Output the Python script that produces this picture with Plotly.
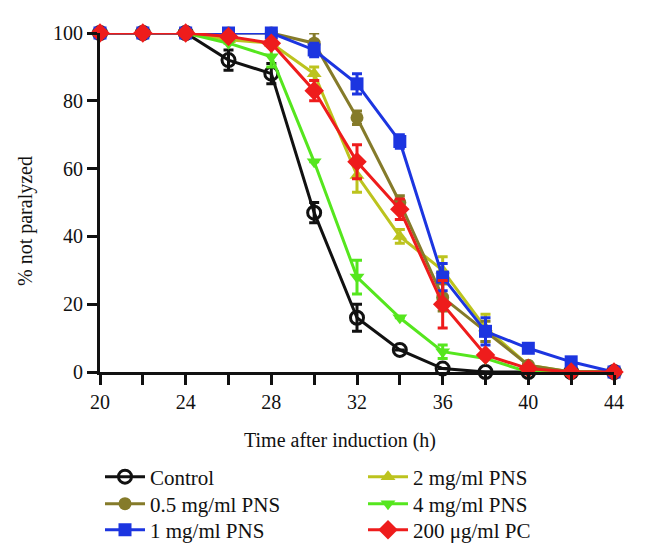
import plotly.graph_objects as go

hours = [20, 22, 24, 26, 28, 30, 32, 34, 36, 38, 40, 42, 44]

control = [100, 100, 100, 92, 88, 47, 16, 6.5, 1, 0, 0, 0, 0]
control_err = [0, 0, 0, 3, 3, 3, 4, 0, 0, 0, 0, 0, 0]

pns05 = [100, 100, 100, 100, 100, 97, 75, 50, 22, 12, 2, 0, 0]
pns05_err = [0, 0, 0, 0, 0, 3, 2, 2, 4, 3, 0, 0, 0]

pns1 = [100, 100, 100, 100, 100, 95, 85, 68, 28, 12, 7, 3, 0]
pns1_err = [0, 0, 0, 0, 0, 2, 3, 2, 4, 4, 0, 0, 0]

pns2 = [100, 100, 100, 98, 97, 88, 58, 40, 30, 13, 2, 0, 0]
pns2_err = [0, 0, 0, 0, 0, 2, 5, 2, 4, 4, 0, 0, 0]

pns4 = [100, 100, 100, 97, 93, 62, 28, 16, 6, 4, 0, 0, 0]
pns4_err = [0, 0, 0, 0, 3, 0, 5, 0, 2, 0, 0, 0, 0]

pc200 = [100, 100, 100, 99, 97, 83, 62, 48, 20, 5, 1, 0, 0]
pc200_err = [0, 0, 0, 0, 0, 3, 5, 3, 7, 0, 0, 0, 0]

x_tickvals = [20, 22, 24, 26, 28, 30, 32, 34, 36, 38, 40, 42, 44]
x_ticktext = ["20", "", "24", "", "28", "", "32", "", "36", "", "40", "", "44"]
y_tickvals = [0, 20, 40, 60, 80, 100]

x_title = "Time after induction (h)"
y_title = "% not paralyzed"

FONT = "'Liberation Serif', 'Times New Roman', 'DejaVu Serif', serif"
INK = "#111111"

series = [
    # name, y, err, color, symbol
    ("Control", control, control_err, INK, "circle-open"),
    ("0.5 mg/ml PNS", pns05, pns05_err, "#857b2a", "circle"),
    ("1 mg/ml PNS", pns1, pns1_err, "#1c35e0", "square"),
    ("2 mg/ml PNS", pns2, pns2_err, "#bcc31e", "triangle-up"),
    ("4 mg/ml PNS", pns4, pns4_err, "#55e61e", "triangle-down"),
    ("200 \u03bcg/ml PC", pc200, pc200_err, "#ee1c1c", "diamond"),
]

W, H = 653, 558
# page body has an 8px margin; positions below are in figure coordinates
L, R, T, B = 92, 47, 25, 194
legend_pos = [(92, 469), (92, 496), (92, 522), (355, 469), (355, 496), (355, 522)]
legend_ids = ["legend", "legend2", "legend3", "legend4", "legend5", "legend6"]

fig = go.Figure()
draw_order = [0, 3, 4, 1, 2, 5]
for i in draw_order:
    name, y, err, color, symbol = series[i]
    if symbol == "circle-open":
        marker = dict(symbol=symbol, size=13, color=color, line=dict(width=3, color=color))
    else:
        marker = dict(symbol=symbol, size=13 if symbol != "diamond" else 15,
                      color=color, line=dict(width=0))
    fig.add_trace(go.Scatter(
        x=hours, y=y, name=name, mode="lines+markers",
        line=dict(color=color, width=3),
        marker=marker,
        error_y=dict(type="data", array=err, visible=True, color=color, thickness=3, width=5),
        cliponaxis=False,
        legend=legend_ids[i],
    ))

layout_legends = {}
for lid, (lx, ly) in zip(legend_ids, legend_pos):
    layout_legends[lid] = dict(
        x=lx / W, y=1 - ly / H, xref="container", yref="container",
        xanchor="left", yanchor="middle",
        font=dict(family=FONT, size=21, color=INK),
        itemwidth=40, bgcolor="rgba(0,0,0,0)", visible=True,
    )

pw = W - L - R
ph = H - T - B

fig.update_layout(
    width=W, height=H,
    showlegend=True,
    margin=dict(l=L, r=R, t=T, b=B, autoexpand=False),
    paper_bgcolor="white", plot_bgcolor="white",
    font=dict(family=FONT, size=20, color=INK),
    xaxis=dict(
        range=[20, 44], tickvals=x_tickvals, ticktext=x_ticktext,
        showgrid=False, zeroline=False, showline=True, linecolor=INK, linewidth=3,
        ticks="outside", ticklen=10, tickwidth=3, tickcolor=INK,
        tickfont=dict(family=FONT, size=20, color=INK),
        automargin=False,
    ),
    yaxis=dict(
        range=[0, 100], tickvals=y_tickvals,
        showgrid=False, zeroline=False, showline=True, linecolor=INK, linewidth=3,
        ticks="outside", ticklen=10, tickwidth=3, tickcolor=INK,
        tickfont=dict(family=FONT, size=20, color=INK),
        automargin=False,
    ),
    annotations=[
        dict(text=x_title, xref="paper", yref="paper",
             x=(332 - L) / pw, y=(H - B - 432) / ph,
             xanchor="center", yanchor="middle", showarrow=False,
             font=dict(family=FONT, size=20, color=INK)),
        dict(text=y_title, xref="paper", yref="paper",
             x=(17 - L) / pw, y=(H - B - 213) / ph, textangle=-90,
             xanchor="center", yanchor="middle", showarrow=False,
             font=dict(family=FONT, size=20, color=INK)),
    ],
    **layout_legends,
)

fig.write_html("out.html")
